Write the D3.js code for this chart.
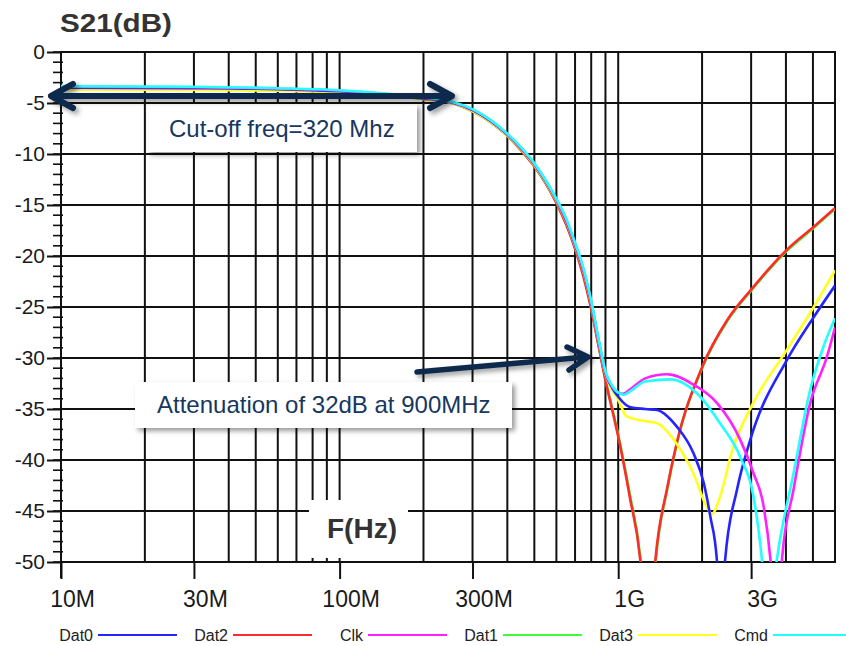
<!DOCTYPE html>
<html>
<head>
<meta charset="utf-8">
<script src="https://cdn.jsdelivr.net/npm/d3@7/dist/d3.min.js"></script>
<style>
  body { margin: 0; background: #fff; }
  svg text { font-family: Arial, "Liberation Sans", sans-serif; }
</style>
</head>
<body>
<div id="chart"></div>
<script>
// Frequencies in MHz, values in dB (S21)
const seriesNames = ["Dat0", "Dat2", "Clk", "Dat1", "Dat3", "Cmd"];
const seriesColors = ["#2424ff", "#ff2a2a", "#ff22ff", "#3cff3c", "#ffff22", "#22ffff"];
const drawOrder = ["Dat1", "Dat2", "Dat3", "Dat0", "Clk", "Cmd"];

const yTicks = [0, -5, -10, -15, -20, -25, -30, -35, -40, -45, -50];
const xTickValues = [10, 30, 100, 300, 1000, 3000];
const xTickLabels = ["10M", "30M", "100M", "300M", "1G", "3G"];

const dat0 = [[10,-3.5],[30,-3.55],[60,-3.65],[100,-3.85],[150,-4.2],[200,-4.55],[250,-4.9],[300,-5.7],[350,-6.8],[400,-8.1],[450,-9.5],[500,-11.0],[550,-12.7],[600,-14.5],[650,-16.5],[700,-18.9],[750,-21.4],[800,-24.6],[850,-28.3],[900,-31.5],[950,-32.9],[1000,-33.8],[1100,-34.8],[1250,-35.0],[1380,-35.1],[1500,-35.7],[1620,-36.7],[1860,-39.3],[2030,-42.3],[2140,-45.5],[2260,-49.8],[2340,-57],[2420,-49.8],[2670,-42.9],[2980,-38.0],[4030,-30.2],[5030,-26.0],[6000,-22.9]];
const dat2 = [[10,-3.55],[30,-3.6],[60,-3.7],[100,-3.9],[150,-4.2],[200,-4.6],[250,-4.95],[300,-5.8],[350,-6.9],[400,-8.2],[450,-9.7],[500,-11.2],[550,-12.9],[600,-14.8],[650,-16.9],[700,-19.3],[750,-22.0],[800,-25.2],[850,-28.8],[900,-32.2],[950,-35.0],[1000,-37.7],[1100,-43.6],[1200,-49.8],[1280,-60],[1360,-49.8],[1500,-42.7],[1620,-38.4],[2000,-30.9],[2460,-26.3],[3000,-23.3],[4030,-19.4],[5000,-17.2],[6000,-15.3]];
const clk = [[10,-3.4],[30,-3.45],[60,-3.6],[100,-3.8],[150,-4.15],[200,-4.5],[250,-4.9],[300,-5.65],[350,-6.75],[400,-8.05],[450,-9.45],[500,-10.95],[550,-12.65],[600,-14.45],[650,-16.4],[700,-18.8],[750,-21.3],[800,-24.5],[850,-28.2],[900,-31.4],[950,-32.8],[1000,-33.4],[1040,-33.5],[1100,-33.1],[1250,-32.0],[1500,-31.6],[1860,-32.6],[2260,-34.4],[2740,-38.0],[3060,-41.3],[3330,-44.6],[3520,-49.8],[3700,-58],[3870,-49.8],[4260,-42.9],[4890,-34.4],[5610,-29.9],[6000,-27.0]];
const dat1 = [[10,-3.6],[30,-3.62],[60,-3.72],[100,-3.92],[150,-4.22],[200,-4.62],[250,-4.97],[300,-5.82],[350,-6.92],[400,-8.22],[450,-9.7],[500,-11.2],[550,-12.9],[600,-14.75],[650,-16.85],[700,-19.2],[750,-21.9],[800,-25.1],[850,-28.7],[900,-32.1],[950,-34.8],[1000,-37.5],[1100,-43.3],[1200,-49.5],[1285,-60],[1365,-49.8],[1500,-42.9],[1620,-38.5],[2000,-31.0],[2460,-26.4],[3000,-23.4],[4030,-19.5],[5000,-17.3],[6000,-15.4]];
const dat3 = [[10,-3.7],[30,-3.72],[60,-3.8],[100,-3.95],[150,-4.25],[200,-4.6],[250,-4.95],[300,-5.8],[350,-6.9],[400,-8.2],[450,-9.6],[500,-11.1],[550,-12.8],[600,-14.6],[650,-16.6],[700,-19.0],[750,-21.5],[800,-24.7],[850,-28.4],[900,-31.6],[950,-33.1],[1000,-34.1],[1070,-35.7],[1200,-36.1],[1380,-36.4],[1620,-38.4],[1860,-41.3],[2080,-44.6],[2170,-45.3],[2320,-43.6],[2570,-39.0],[3000,-34.8],[4030,-29.2],[5030,-25.0],[6000,-21.4]];
const cmd = [[10,-3.35],[30,-3.4],[60,-3.55],[100,-3.75],[150,-4.1],[200,-4.45],[250,-4.85],[300,-5.6],[350,-6.7],[400,-8.0],[450,-9.4],[500,-10.9],[550,-12.6],[600,-14.4],[650,-16.3],[700,-18.7],[750,-21.2],[800,-24.4],[850,-28.1],[900,-31.3],[950,-32.7],[1000,-33.4],[1050,-33.6],[1100,-33.3],[1250,-32.3],[1540,-32.1],[1970,-33.8],[2320,-36.4],[2740,-39.7],[3060,-43.6],[3280,-49.8],[3450,-57],[3710,-49.8],[4260,-41.3],[4890,-33.1],[5500,-28.6],[6000,-26.1]];

const seriesData = { Dat0: dat0, Dat2: dat2, Clk: clk, Dat1: dat1, Dat3: dat3, Cmd: cmd };

const margin = { top: 52, right: 11, bottom: 84, left: 61 };
const totalW = 846, totalH = 646;
const width = totalW - margin.left - margin.right;
const height = totalH - margin.top - margin.bottom;

const root = d3.select("#chart").append("svg")
  .attr("width", totalW)
  .attr("height", totalH);

const defs = root.append("defs");
defs.append("filter")
  .attr("id", "shadow")
  .attr("x", "-10%").attr("y", "-30%").attr("width", "130%").attr("height", "180%")
  .append("feDropShadow")
  .attr("dx", 3).attr("dy", 3).attr("stdDeviation", 2.5)
  .attr("flood-color", "#000").attr("flood-opacity", 0.4);

defs.append("clipPath").attr("id", "plotClip")
  .append("rect").attr("width", width).attr("height", height);

const svg = root.append("g")
  .attr("transform", `translate(${margin.left},${margin.top})`);

const x = d3.scaleLog().domain([10, 6000]).range([0, width]);
const y = d3.scaleLinear().domain([0, -50]).range([0, height]);

const gridColor = "#111";

// Grid lines
svg.append("g").selectAll("line")
  .data(x.ticks())
  .join("line")
  .attr("x1", d => x(d)).attr("x2", d => x(d))
  .attr("y1", 0).attr("y2", height)
  .attr("stroke", gridColor).attr("stroke-width", 2);

svg.append("g").selectAll("line")
  .data(yTicks)
  .join("line")
  .attr("x1", 0).attr("x2", width)
  .attr("y1", d => y(d)).attr("y2", d => y(d))
  .attr("stroke", gridColor).attr("stroke-width", 2);

// plot frame, y axis line runs a bit past the bottom
svg.append("rect")
  .attr("width", width).attr("height", height)
  .attr("fill", "none").attr("stroke", gridColor).attr("stroke-width", 2);
svg.append("line")
  .attr("x1", 0).attr("x2", 0).attr("y1", 0).attr("y2", height + 16)
  .attr("stroke", gridColor).attr("stroke-width", 2);

// Minor y ticks every 1 dB
svg.append("g").selectAll("line")
  .data(d3.range(0, -51, -1))
  .join("line")
  .attr("x1", -8).attr("x2", 2)
  .attr("y1", d => y(d)).attr("y2", d => y(d))
  .attr("stroke", gridColor).attr("stroke-width", 1.6);

// Axes
const yAxis = d3.axisLeft(y).tickValues(yTicks).tickSize(14).tickPadding(2).tickFormat(d => String(d));
const yG = svg.append("g").call(yAxis);
yG.select(".domain").remove();
yG.selectAll(".tick line").attr("stroke", gridColor).attr("stroke-width", 2);
yG.selectAll(".tick text")
  .style("font-size", "21px").style("font-family", "Arial, 'Liberation Sans', sans-serif")
  .attr("fill", "#1a1a1a");

const xAxis = d3.axisBottom(x).tickValues(xTickValues).tickSize(17).tickPadding(12)
  .tickFormat((d, i) => xTickLabels[i]);
const xG = svg.append("g").attr("transform", `translate(0,${height})`).call(xAxis);
xG.select(".domain").remove();
xG.selectAll(".tick line").attr("stroke", gridColor).attr("stroke-width", 2);
xG.selectAll(".tick text")
  .attr("dx", 11)
  .style("font-size", "23px").style("font-family", "Arial, 'Liberation Sans', sans-serif")
  .attr("fill", "#1a1a1a");

// F(Hz) label sits on a white patch over the grid
svg.append("rect")
  .attr("x", 248).attr("y", 448).attr("width", 99).attr("height", 58)
  .attr("fill", "#fff");
svg.append("text")
  .attr("x", 266).attr("y", 486)
  .attr("font-size", 28).attr("font-weight", "bold")
  .attr("fill", "#333")
  .text("F(Hz)");

// Curves
const line = d3.line()
  .x(d => x(d[0]))
  .y(d => y(d[1]))
  .curve(d3.curveMonotoneX);

const curves = svg.append("g").attr("clip-path", "url(#plotClip)");
drawOrder.forEach(name => {
  curves.append("path")
    .datum(seriesData[name])
    .attr("fill", "none")
    .attr("stroke", seriesColors[seriesNames.indexOf(name)])
    .attr("stroke-width", 2.6)
    .attr("d", line);
});

// Title
root.append("text")
  .attr("x", 60).attr("y", 32)
  .attr("font-size", 26).attr("font-weight", "bold")
  .attr("fill", "#333")
  .attr("textLength", 112).attr("lengthAdjust", "spacingAndGlyphs")
  .text("S21(dB)");

// Annotations
const navy = "#0e2a4e";
const ann = root.append("g");

ann.append("rect")
  .attr("x", 147).attr("y", 104).attr("width", 270).attr("height", 48)
  .attr("fill", "#fff").attr("filter", "url(#shadow)");
ann.append("text")
  .attr("x", 169).attr("y", 137)
  .attr("font-size", 24).attr("fill", "#17375e")
  .text("Cut-off freq=320 Mhz");

ann.append("path")
  .attr("d", "M52,96 L450,96 M73,84 L51,96 L73,108 M430,84 L452,96 L430,108")
  .attr("fill", "none").attr("stroke", navy).attr("stroke-width", 6)
  .attr("stroke-linecap", "round").attr("stroke-linejoin", "round")
  .attr("filter", "url(#shadow)");

ann.append("rect")
  .attr("x", 135).attr("y", 382).attr("width", 377).attr("height", 46)
  .attr("fill", "#fff").attr("filter", "url(#shadow)");
ann.append("text")
  .attr("x", 157).attr("y", 413)
  .attr("font-size", 24).attr("fill", "#17375e")
  .text("Attenuation of 32dB at 900MHz");

ann.append("path")
  .attr("d", "M417,372 L586,357 M567,347 L588,357 L569,370")
  .attr("fill", "none").attr("stroke", navy).attr("stroke-width", 5.5)
  .attr("stroke-linecap", "round").attr("stroke-linejoin", "round")
  .attr("filter", "url(#shadow)");

// Legend
const legend = root.append("g").attr("transform", "translate(0,635)");
const legendItem = legend.selectAll("g")
  .data(seriesNames)
  .join("g")
  .attr("transform", (d, i) => `translate(${98 + i * 135},0)`);
legendItem.append("text")
  .attr("x", -5).attr("y", 6)
  .attr("text-anchor", "end")
  .attr("font-size", 16).attr("fill", "#222")
  .text(d => d);
legendItem.append("line")
  .attr("x1", 0).attr("x2", 79)
  .attr("stroke", (d, i) => seriesColors[i])
  .attr("stroke-width", 2.2);
</script>
</body>
</html>
